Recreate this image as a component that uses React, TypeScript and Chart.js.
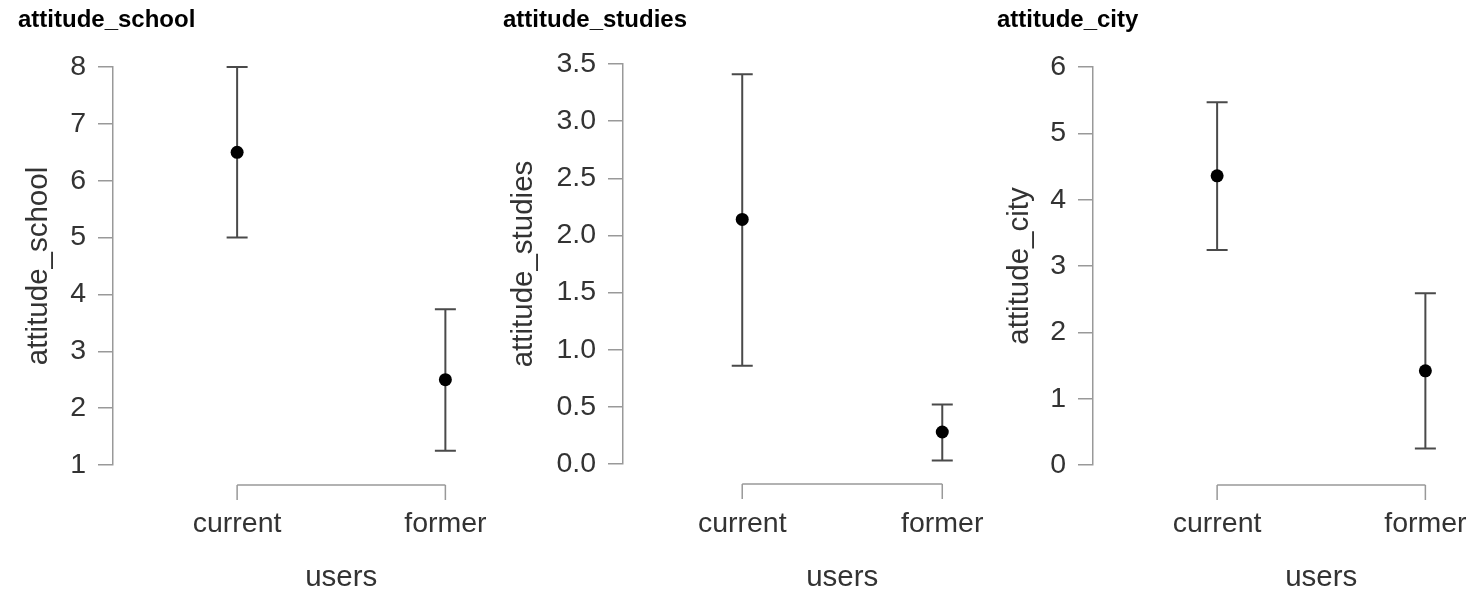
import React, { useEffect, useRef } from 'react';
import { Chart, registerables } from 'chart.js';

Chart.register(...registerables);

// ---------- data ----------
const categories = ['current', 'former'];
const xAxisTitle = 'users';

const schoolMeans = [6.5, 2.5];
const schoolLower = [5.0, 1.25];
const schoolUpper = [8.0, 3.74];
const schoolTicks = [1, 2, 3, 4, 5, 6, 7, 8];

const studiesMeans = [2.14, 0.28];
const studiesLower = [0.86, 0.03];
const studiesUpper = [3.41, 0.52];
const studiesTicks = [0, 0.5, 1.0, 1.5, 2.0, 2.5, 3.0, 3.5];

const cityMeans = [4.36, 1.42];
const cityLower = [3.24, 0.25];
const cityUpper = [5.47, 2.59];
const cityTicks = [0, 1, 2, 3, 4, 5, 6];

// ---------- styling / layout ----------
const FONT = '"Liberation Sans", Arial, Helvetica, sans-serif';
const H = 590;
const X_PAD = 0.596;
const TICK_SIZE = 28.5;
const AXIS_TITLE_SIZE = 29.5;
const PANEL_TITLE_SIZE = 24;

type Panel = {
  title: string;
  means: number[];
  lower: number[];
  upper: number[];
  ticks: number[];
  decimals: number;
  canvasLeft: number;
  padLeft: number;
  yAxisWidth: number;
  plotWidth: number;
  chartTop: number;
  chartBottom: number;
  yTitlePad: number;
};

const panels: Panel[] = [
  {
    title: 'attitude_school', means: schoolMeans, lower: schoolLower, upper: schoolUpper,
    ticks: schoolTicks, decimals: 0,
    canvasLeft: 0, padLeft: 18, yAxisWidth: 95, plotWidth: 463, chartTop: 67, chartBottom: 465, yTitlePad: 3.3,
  },
  {
    title: 'attitude_studies', means: studiesMeans, lower: studiesLower, upper: studiesUpper,
    ticks: studiesTicks, decimals: 1,
    canvasLeft: 490, padLeft: 13, yAxisWidth: 120, plotWidth: 445, chartTop: 64, chartBottom: 464, yTitlePad: 2.8,
  },
  {
    title: 'attitude_city', means: cityMeans, lower: cityLower, upper: cityUpper,
    ticks: cityTicks, decimals: 0,
    canvasLeft: 975, padLeft: 22, yAxisWidth: 96, plotWidth: 463, chartTop: 67, chartBottom: 465, yTitlePad: 5.3,
  },
];

function makeErrorBarPlugin(lower: number[], upper: number[]) {
  return {
    id: 'errorBars',
    beforeDatasetsDraw(chart: any) {
      const { ctx } = chart;
      const x = chart.scales.x;
      const y = chart.scales.y;
      const cap = 10.5;
      ctx.save();
      ctx.strokeStyle = '#4a4a4a';
      ctx.lineWidth = 2;
      lower.forEach((lo, i) => {
        const px = x.getPixelForValue(i);
        const yl = y.getPixelForValue(lo);
        const yu = y.getPixelForValue(upper[i]);
        ctx.beginPath();
        ctx.moveTo(px, yl);
        ctx.lineTo(px, yu);
        ctx.moveTo(px - cap, yl);
        ctx.lineTo(px + cap, yl);
        ctx.moveTo(px - cap, yu);
        ctx.lineTo(px + cap, yu);
        ctx.stroke();
      });
      ctx.restore();
    },
  };
}

const bracketPlugin = {
  id: 'xBracket',
  afterDraw(chart: any) {
    const { ctx, chartArea } = chart;
    const x = chart.scales.x;
    const yLine = chartArea.bottom + 20;
    const x0 = x.getPixelForValue(0);
    const x1 = x.getPixelForValue(categories.length - 1);
    ctx.save();
    ctx.strokeStyle = '#999999';
    ctx.lineWidth = 1.5;
    ctx.beginPath();
    ctx.moveTo(x0, yLine);
    ctx.lineTo(x1, yLine);
    categories.forEach((_, i) => {
      const px = x.getPixelForValue(i);
      ctx.moveTo(px, yLine);
      ctx.lineTo(px, yLine + 15);
    });
    ctx.stroke();
    ctx.restore();
  },
};

function PanelChart({ p }: { p: Panel }) {
  const ref = useRef<HTMLCanvasElement>(null);
  const width = p.padLeft + p.yAxisWidth + p.plotWidth;

  useEffect(() => {
    const titleLine = PANEL_TITLE_SIZE * 1.2;
    const titleTopPad = 20 - titleLine / 2;
    const tickLine = TICK_SIZE * 1.2;
    const axisTitleLine = AXIS_TITLE_SIZE * 1.2;
    const chart = new Chart(ref.current as HTMLCanvasElement, {
      type: 'scatter',
      data: {
        datasets: [
          {
            data: p.means.map((m, i) => ({ x: i, y: m })),
            backgroundColor: '#000000',
            borderColor: '#000000',
            pointRadius: 6.5,
            pointHoverRadius: 6.5,
            borderWidth: 0,
          },
        ],
      },
      options: {
        responsive: false,
        animation: false,
        devicePixelRatio: 1,
        layout: { padding: { left: p.padLeft, right: 0, top: 0, bottom: 0 } },
        plugins: {
          legend: { display: false },
          tooltip: { enabled: false },
          title: {
            display: true,
            text: p.title,
            align: 'start',
            color: '#000000',
            font: { family: FONT, size: PANEL_TITLE_SIZE, weight: 'bold' },
            padding: { top: titleTopPad, bottom: p.chartTop - titleTopPad - titleLine },
          },
        },
        scales: {
          x: {
            type: 'linear',
            bounds: 'data',
            min: -X_PAD,
            max: categories.length - 1 + X_PAD,
            afterBuildTicks: (s: any) => {
              s.ticks = categories.map((_, i) => ({ value: i }));
            },
            afterFit: (s: any) => {
              s.height = H - p.chartBottom;
            },
            ticks: {
              autoSkip: false,
              maxRotation: 0,
              padding: 0,
              color: '#333333',
              font: { family: FONT, size: TICK_SIZE },
              callback: (_v: any, i: number) => categories[i],
            },
            grid: {
              display: true,
              drawOnChartArea: false,
              drawTicks: true,
              tickLength: 524.5 - p.chartBottom - tickLine / 2,
              tickColor: 'rgba(0,0,0,0)',
              color: 'rgba(0,0,0,0)',
            },
            border: { display: false },
            title: {
              display: true,
              text: xAxisTitle,
              color: '#333333',
              font: { family: FONT, size: AXIS_TITLE_SIZE },
              padding: { top: 0, bottom: H - 578 - axisTitleLine / 2 },
            },
          },
          y: {
            type: 'linear',
            bounds: 'data',
            min: p.ticks[0],
            max: p.ticks[p.ticks.length - 1],
            afterBuildTicks: (s: any) => {
              s.ticks = p.ticks.map((v) => ({ value: v }));
            },
            afterFit: (s: any) => {
              s.width = p.yAxisWidth;
            },
            ticks: {
              padding: 12,
              color: '#333333',
              font: { family: FONT, size: TICK_SIZE },
              callback: (v: any) => Number(v).toFixed(p.decimals),
            },
            grid: {
              drawOnChartArea: false,
              drawTicks: true,
              tickLength: 15,
              color: '#999999',
              tickColor: '#999999',
              lineWidth: 1.5,
            },
            border: { display: true, color: '#999999', width: 1.5 },
            title: {
              display: true,
              text: p.title,
              color: '#333333',
              font: { family: FONT, size: AXIS_TITLE_SIZE },
              padding: { top: p.yTitlePad, bottom: 0 },
            },
          },
        },
      } as any,
      plugins: [makeErrorBarPlugin(p.lower, p.upper), bracketPlugin],
    });
    return () => chart.destroy();
  }, []);

  return (
    <canvas
      ref={ref}
      width={width}
      height={H}
      style={{ position: 'absolute', left: p.canvasLeft, top: 0, width, height: H, display: 'block' }}
    />
  );
}

export default function App() {
  return (
    <div
      style={{
        position: 'fixed',
        left: 0,
        top: 0,
        width: 1472,
        height: H,
        overflow: 'hidden',
        background: '#ffffff',
      }}
    >
      {panels.map((p) => (
        <PanelChart key={p.title} p={p} />
      ))}
    </div>
  );
}
